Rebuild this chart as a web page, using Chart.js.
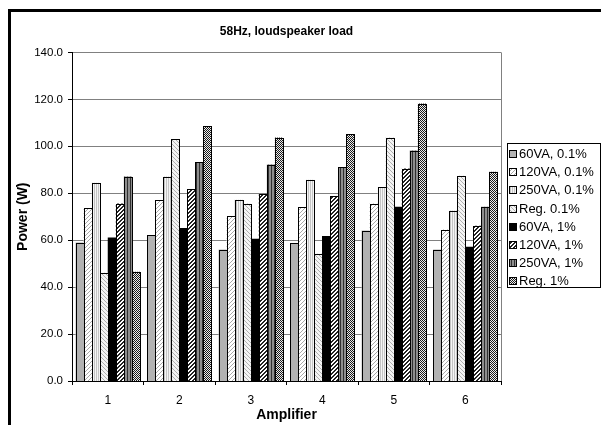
<!DOCTYPE html>
<html>
<head>
<meta charset="utf-8">
<script src="https://cdn.jsdelivr.net/npm/chart.js@4/dist/chart.umd.min.js"></script>
<style>
  html, body { margin: 0; padding: 0; background: #fff; }
  #wrap { position: relative; width: 601px; height: 425px; }
</style>
</head>
<body>
<div id="wrap"><canvas id="c" width="601" height="425"></canvas></div>
<script>
// ---- data ----
const categories = ['1', '2', '3', '4', '5', '6'];
const seriesNames = ['60VA, 0.1%', '120VA, 0.1%', '250VA, 0.1%', 'Reg. 0.1%', '60VA, 1%', '120VA, 1%', '250VA, 1%', 'Reg. 1%'];
const va60_01  = [59.0, 62.0, 56.0, 58.6, 64.1, 56.0];
const va120_01 = [73.6, 77.1, 70.1, 74.0, 75.6, 64.5];
const va250_01 = [84.5, 87.1, 77.2, 85.7, 82.6, 72.6];
const reg_01   = [46.1, 103.1, 75.6, 54.2, 103.7, 87.5];
const va60_1   = [61.1, 65.1, 60.6, 61.7, 74.2, 57.2];
const va120_1  = [75.6, 81.7, 79.6, 78.7, 90.5, 66.1];
const va250_1  = [87.1, 93.2, 92.2, 91.2, 98.2, 74.2];
const reg_1    = [46.5, 108.6, 103.7, 105.1, 118.2, 89.2];
const yTicks = [0, 20, 40, 60, 80, 100, 120, 140];
const titleText = '58Hz, loudspeaker load';
const xTitle = 'Amplifier';
const yTitle = 'Power (W)';

// ---- patterns ----
function tile(w, h, fn) {
  const c = document.createElement('canvas');
  c.width = w; c.height = h;
  const x = c.getContext('2d');
  for (let i = 0; i < w; i++) for (let j = 0; j < h; j++) {
    x.fillStyle = fn(i, j); x.fillRect(i, j, 1, 1);
  }
  return x.createPattern(c, 'repeat');
}
const fills = [
  '#b2b2b2',
  tile(4, 4, (i, j) => ((i + j) % 4 === 0 ? '#a8a8a8' : '#ffffff')),
  tile(2, 1, (i) => (i === 0 ? '#c4c4c4' : '#f4f4f4')),
  tile(4, 4, (i, j) => (((i - j + 8) % 4 === 0) ? '#b0b0b0' : '#f4f4f4')),
  '#000000',
  tile(4, 4, (i, j) => (((i + j) % 4) < 2 ? '#222222' : '#ffffff')),
  tile(3, 1, (i) => (i === 1 ? '#303030' : '#8e8e8e')),
  tile(2, 2, (i, j) => (((i + j) % 2) === 0 ? '#1a1a1a' : '#ececec'))
];
const seriesData = [va60_01, va120_01, va250_01, reg_01, va60_1, va120_1, va250_1, reg_1];

Chart.defaults.font.family = '"Liberation Sans", Arial, sans-serif';
Chart.defaults.color = '#000';

const FONT = '"Liberation Sans", Arial, sans-serif';

const decor = {
  id: 'decor',
  beforeDatasetsDraw(chart) {
    const { ctx, chartArea: a } = chart;
    ctx.save();
    ctx.strokeStyle = '#808080';
    ctx.lineWidth = 1;
    ctx.beginPath();
    ctx.moveTo(Math.round(a.right) + 0.5, a.top);
    ctx.lineTo(Math.round(a.right) + 0.5, a.bottom);
    ctx.stroke();
    ctx.restore();
  },
  afterDatasetsDraw(chart) {
    // crisp 1px outlines around the library-positioned bars
    const { ctx } = chart;
    ctx.save();
    ctx.strokeStyle = '#000';
    ctx.lineWidth = 1;
    chart.data.datasets.forEach((d, k) => {
      const meta = chart.getDatasetMeta(k);
      meta.data.forEach((el) => {
        const p = el.getProps(['x', 'y', 'base', 'width'], true);
        const l = Math.round(p.x - p.width / 2);
        const r = Math.round(p.x + p.width / 2);
        const t = Math.round(p.y);
        const b = Math.round(p.base);
        ctx.fillStyle = d.backgroundColor;
        ctx.fillRect(l, t, r - l, b - t);
        ctx.strokeRect(l + 0.5, t + 0.5, r - l, b - t);
      });
    });
    ctx.restore();
  },
  afterDraw(chart) {
    const { ctx } = chart;
    ctx.save();
    // outer frame (cut off at right / bottom)
    ctx.fillStyle = '#000';
    ctx.fillRect(8, 9, 593, 3);
    ctx.fillRect(8, 9, 3, 416);
    // legend box
    const lx = 507, ly = 143, lw = 93, lh = 144;
    ctx.fillStyle = '#fff';
    ctx.fillRect(lx, ly, lw, lh);
    ctx.strokeStyle = '#000';
    ctx.lineWidth = 1;
    ctx.strokeRect(lx + 0.5, ly + 0.5, lw, lh);
    ctx.font = '13px ' + FONT;
    ctx.textBaseline = 'middle';
    ctx.textAlign = 'left';
    const ds = chart.data.datasets;
    for (let k = 0; k < ds.length; k++) {
      const cy = 154 + k * 18.2;
      ctx.fillStyle = ds[k].backgroundColor;
      ctx.fillRect(510, Math.round(cy) - 3, 7, 7);
      ctx.strokeStyle = '#000';
      ctx.strokeRect(509.5, Math.round(cy) - 3.5, 7, 7);
      ctx.fillStyle = '#000';
      ctx.fillText(ds[k].label, 519, cy + 0.5);
    }
    ctx.restore();
  }
};

new Chart(document.getElementById('c'), {
  type: 'bar',
  data: {
    labels: categories,
    datasets: seriesNames.map((n, k) => ({
      label: n,
      data: seriesData[k],
      backgroundColor: fills[k],
      borderColor: '#000',
      borderWidth: 0,
      categoryPercentage: 0.9,
      barPercentage: 1.0
    }))
  },
  options: {
    responsive: false,
    animation: false,
    devicePixelRatio: 1,
    layout: { padding: { left: 10, top: 10, right: 100, bottom: 0 } },
    plugins: {
      legend: { display: false },
      tooltip: { enabled: false },
      title: {
        display: true,
        text: titleText,
        fullSize: false,
        color: '#000',
        font: { size: 12, weight: 'bold', family: FONT },
        padding: { top: 14, bottom: 14 }
      }
    },
    scales: {
      x: {
        afterFit(s) { s.height = 44; },
        grid: { display: true, drawOnChartArea: false, drawTicks: true, tickLength: 4, tickColor: '#000', offset: true },
        border: { display: true, color: '#000', width: 1 },
        ticks: { font: { size: 12, family: FONT }, color: '#000', padding: 8 },
        title: { display: true, text: xTitle, color: '#000', font: { size: 14, weight: 'bold', family: FONT }, padding: { top: 0, bottom: 1 } }
      },
      y: {
        min: 0, max: 140,
        afterFit(s) { s.width = 62; },
        afterBuildTicks(s) { s.ticks = yTicks.map(v => ({ value: v })); },
        grid: { color: '#808080', lineWidth: 1, drawTicks: true, tickLength: 4, tickColor: '#000' },
        border: { display: true, color: '#000', width: 1 },
        ticks: { font: { size: 11.5, family: FONT }, color: '#000', padding: 5, callback: (v) => Number(v).toFixed(1) },
        title: { display: true, text: yTitle, color: '#000', font: { size: 14, weight: 'bold', family: FONT }, padding: { top: 5, bottom: 0 } }
      }
    }
  },
  plugins: [decor]
});
</script>
</body>
</html>
